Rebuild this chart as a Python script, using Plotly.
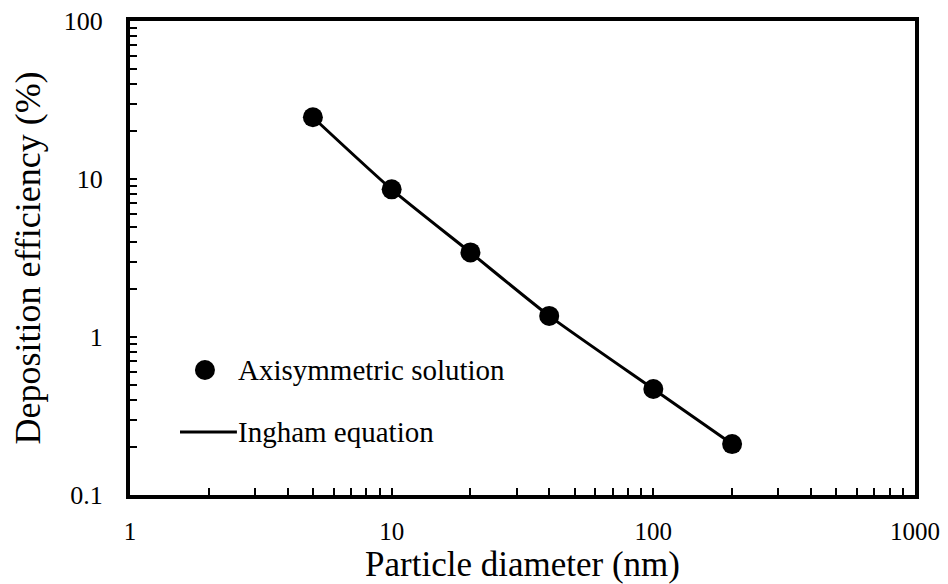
import plotly.graph_objects as go

diameter_nm = [5, 10, 20, 40, 100, 200]
axisym_eff = [24.6, 8.6, 3.43, 1.36, 0.469, 0.21]
ingham_eff = [24.6, 8.6, 3.43, 1.36, 0.469, 0.21]

x_ticks = [1, 10, 100, 1000]
x_tick_text = ["1", "10", "100", "1000"]
x_minor = [m * d for d in (1, 10, 100) for m in range(2, 10)]
y_ticks = [0.1, 1, 10, 100]
y_tick_text = ["0.1", "1", "10", "100"]
y_minor = [m * d for d in (0.1, 1, 10) for m in range(2, 10)]

legend_labels = ["Axisymmetric solution", "Ingham equation"]

font_family = "Liberation Serif, Times New Roman, serif"

fig = go.Figure()
fig.add_trace(go.Scatter(
    x=diameter_nm, y=ingham_eff, mode="lines", name=legend_labels[1],
    line=dict(color="black", width=3, shape="spline", smoothing=0.6), showlegend=False))
fig.add_trace(go.Scatter(
    x=diameter_nm, y=axisym_eff, mode="markers", name=legend_labels[0],
    marker=dict(color="black", size=20), showlegend=False))

# manual legend
mk_x, mk_y = 0.0955, 0.2637
ln_y, ln_x0, ln_x1 = 0.1329, 0.0637, 0.1362
txt_x = 0.1355
fig.add_shape(type="circle", xref="paper", yref="paper", xsizemode="pixel", ysizemode="pixel",
              xanchor=mk_x, yanchor=mk_y, x0=-10, x1=10, y0=-10, y1=10,
              fillcolor="black", line=dict(color="black", width=0))
fig.add_shape(type="line", xref="paper", yref="paper", x0=ln_x0, x1=ln_x1, y0=ln_y, y1=ln_y,
              line=dict(color="black", width=3))
fig.add_annotation(x=txt_x, y=mk_y, xref="paper", yref="paper", text=legend_labels[0],
                   showarrow=False, xanchor="left", yanchor="middle",
                   font=dict(size=29, family=font_family, color="black"))
fig.add_annotation(x=txt_x, y=ln_y, xref="paper", yref="paper", text=legend_labels[1],
                   showarrow=False, xanchor="left", yanchor="middle",
                   font=dict(size=29, family=font_family, color="black"))

axis_common = dict(type="log", ticks="inside", ticklen=7, tickwidth=2, tickcolor="black",
                   showgrid=False, zeroline=False, automargin=False, ticklabeloverflow="allow",
                   showline=True, linewidth=4, linecolor="black", mirror=True)

fig.update_layout(
    width=940, height=576,
    margin=dict(l=122, r=33, t=13, b=89),
    paper_bgcolor="white", plot_bgcolor="white",
    font=dict(family=font_family, color="black", size=26),
    showlegend=False,
    xaxis=dict(range=[0, 3], tickvals=x_ticks, ticktext=x_tick_text,
               minor=dict(tickvals=x_minor, ticks="inside", ticklen=7, tickwidth=2,
                          tickcolor="black", showgrid=False),
               title=dict(text="Particle diameter (nm)", font=dict(size=35, family=font_family), standoff=1),
               tickfont=dict(size=25, family=font_family), ticklabelstandoff=11, **axis_common),
    yaxis=dict(range=[-1, 2], tickvals=y_ticks, ticktext=y_tick_text,
               minor=dict(tickvals=y_minor, ticks="inside", ticklen=7, tickwidth=2,
                          tickcolor="black", showgrid=False),
               title=dict(text="Deposition efficiency (%)", font=dict(size=36, family=font_family), standoff=16),
               tickfont=dict(size=26, family=font_family), ticklabelstandoff=18, **axis_common),
)

fig.write_html("out.html")
